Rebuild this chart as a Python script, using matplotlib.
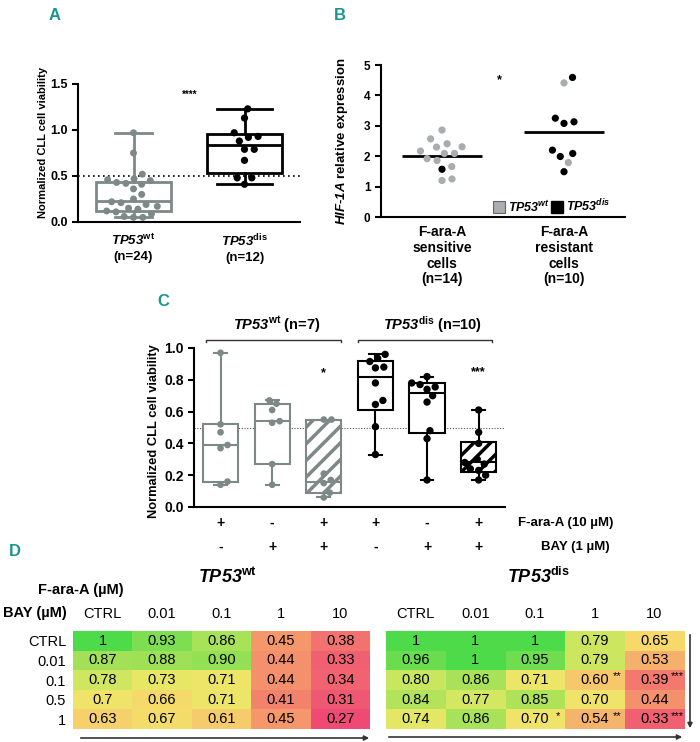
import numpy as np
import matplotlib
matplotlib.use("Agg")
import matplotlib.pyplot as plt
from matplotlib.patches import Patch, FancyArrowPatch
from matplotlib.colors import LinearSegmentedColormap

plt.rcParams.update({
    "font.family": ["Liberation Sans", "DejaVu Sans"],
    "font.weight": "bold",
    "axes.labelweight": "bold",
    "mathtext.fontset": "custom",
    "mathtext.rm": "Liberation Sans:italic:bold",
    "mathtext.it": "Liberation Sans:italic:bold",
    "mathtext.sf": "Liberation Sans:bold",
    "mathtext.bf": "Liberation Sans:bold",
    "axes.linewidth": 1.5,
    "hatch.linewidth": 2.5,
})

# ---- Panel A: viability by TP53 status
A_wt = [0.97, 0.75, 0.52, 0.47, 0.46, 0.45, 0.43, 0.42, 0.41, 0.36, 0.30, 0.25,
        0.22, 0.21, 0.19, 0.17, 0.15, 0.14, 0.12, 0.11, 0.09, 0.06, 0.05, 0.05]
A_dis = [1.23, 1.13, 0.97, 0.93, 0.92, 0.88, 0.79, 0.79, 0.67, 0.48, 0.48, 0.41]
# whislo, q1, median, q3, whishi
A_box_wt = [0.05, 0.12, 0.23, 0.43, 0.97]
A_box_dis = [0.41, 0.53, 0.84, 0.96, 1.23]
A_ticks = [r"$\mathrm{TP53}^{\mathsf{wt}}$" + "\n(n=24)",
           r"$\mathrm{TP53}^{\mathsf{dis}}$" + "\n(n=12)"]

# ---- Panel B: HIF-1A expression
B_sens = [2.86, 2.57, 2.31, 2.30, 2.41, 2.17, 2.09, 2.09, 1.92, 1.86, 1.66, 1.57, 1.20, 1.25]
B_sens_dis = [0, 0, 0, 0, 0, 0, 0, 0, 0, 0, 0, 1, 0, 0]
B_res = [4.59, 4.41, 3.25, 3.08, 3.13, 2.09, 1.99, 2.20, 1.79, 1.49]
B_res_dis = [1, 0, 1, 1, 1, 1, 1, 1, 0, 1]
B_ticks = ["F-ara-A\nsensitive\ncells\n(n=14)", "F-ara-A\nresistant\ncells\n(n=10)"]

# ---- Panel C: F-ara-A / BAY combinations
C_vals = [
    [0.97, 0.52, 0.47, 0.39, 0.37, 0.16, 0.14],
    [0.67, 0.65, 0.61, 0.54, 0.53, 0.27, 0.14],
    [0.55, 0.55, 0.21, 0.17, 0.15, 0.09, 0.06],
    [0.96, 0.935, 0.915, 0.88, 0.875, 0.78, 0.67, 0.645, 0.505, 0.33],
    [0.82, 0.78, 0.77, 0.755, 0.74, 0.70, 0.66, 0.48, 0.43, 0.17],
    [0.61, 0.47, 0.40, 0.30, 0.28, 0.27, 0.24, 0.23, 0.20, 0.17],
]
C_box = [
    [0.14, 0.16, 0.39, 0.52, 0.97],
    [0.14, 0.27, 0.54, 0.65, 0.67],
    [0.06, 0.09, 0.16, 0.55, 0.55],
    [0.33, 0.61, 0.82, 0.92, 0.96],
    [0.17, 0.465, 0.72, 0.78, 0.82],
    [0.17, 0.22, 0.28, 0.41, 0.61],
]
C_fara = ["+", "-", "+", "+", "-", "+"]
C_bay = ["-", "+", "+", "-", "+", "+"]

# ---- Panel D: heatmaps
D_cols = ["CTRL", "0.01", "0.1", "1", "10"]     # F-ara-A (uM)
D_rows = ["CTRL", "0.01", "0.1", "0.5", "1"]    # BAY (uM)
D_wt = [["1", "0.93", "0.86", "0.45", "0.38"],
        ["0.87", "0.88", "0.90", "0.44", "0.33"],
        ["0.78", "0.73", "0.71", "0.44", "0.34"],
        ["0.7", "0.66", "0.71", "0.41", "0.31"],
        ["0.63", "0.67", "0.61", "0.45", "0.27"]]
D_dis = [["1", "1", "1", "0.79", "0.65"],
         ["0.96", "1", "0.95", "0.79", "0.53"],
         ["0.80", "0.86", "0.71", "0.60", "0.39"],
         ["0.84", "0.77", "0.85", "0.70", "0.44"],
         ["0.74", "0.86", "0.70", "0.54", "0.33"]]
D_dis_stars = {(2, 3): "**", (2, 4): "***", (4, 2): "*", (4, 3): "**", (4, 4): "***"}

GRAY = "#7d8987"
GRAY_B = "#a7adb0"
TEAL = "#1a9590"

W, H = 700, 742
fig = plt.figure(figsize=(W / 100, H / 100), dpi=100)


def px_axes(l, t, r, b):
    return fig.add_axes([l / W, 1 - b / H, (r - l) / W, (b - t) / H])


def fxy(x, y):
    return x / W, 1 - y / H


def swarm(ax, x0, vals, size_pt, colors, gap=1.05, zorder=4):
    vals = np.asarray(vals, float)
    bb = ax.get_position()
    xl, yl = ax.get_xlim(), ax.get_ylim()
    d = size_pt * 100 / 72 * gap
    dx = d * (xl[1] - xl[0]) / (bb.width * W)
    dy = d * (yl[1] - yl[0]) / (bb.height * H)
    placed = []
    offs = np.zeros(len(vals))
    for i in np.argsort(vals):
        yn = vals[i] / dy
        near = [(p, q) for p, q in placed if abs(q - yn) < 1]
        cands = [0.0]
        for p, q in near:
            h = np.sqrt(1 - (q - yn) ** 2)
            cands += [p + h, p - h]
        cands.sort(key=abs)
        for c in cands:
            if all((c - p) ** 2 + (yn - q) ** 2 >= 0.999 for p, q in near):
                break
        placed.append((c, yn))
        offs[i] = c * dx
    ax.scatter(x0 + offs, vals, s=size_pt ** 2, c=colors, edgecolors="none",
               zorder=zorder, clip_on=False)


def stats(b):
    return dict(whislo=b[0], q1=b[1], med=b[2], q3=b[3], whishi=b[4], fliers=[])


def draw_box(ax, b, pos, width, cap, color, lw, hatch=None):
    props = dict(color=color, lw=lw)
    ax.bxp([stats(b)], positions=[pos], widths=width, capwidths=cap,
           showfliers=False, patch_artist=True,
           boxprops=dict(facecolor="white", edgecolor=color, lw=lw, hatch=hatch),
           whiskerprops=props, capprops=props, medianprops=props)


def style(ax, ysize=9):
    for s in ("top", "right"):
        ax.spines[s].set_visible(False)
    ax.tick_params(axis="y", direction="out", length=4, width=1.5, labelsize=ysize)
    ax.tick_params(axis="x", length=0)


def bold_ticks(ax):
    for t in ax.get_yticklabels() + ax.get_xticklabels():
        t.set_fontweight("bold")


# ================= A
axA = px_axes(78, 84, 300, 222)
axA.set_xlim(-0.5, 1.5)
axA.set_ylim(0, 1.5)
draw_box(axA, A_box_wt, 0, 0.667, 0.33, GRAY, 2)
draw_box(axA, A_box_dis, 1, 0.667, 0.5, "black", 2)
axA.axhline(0.5, color="black", ls=(0, (1, 2)), lw=1.2, zorder=1)
swarm(axA, 0, A_wt, 5.0, GRAY, gap=1.35)
swarm(axA, 1, A_dis, 5.2, "black", gap=1.35)
style(axA, 9)
axA.set_yticks([0, 0.5, 1.0, 1.5])
axA.set_xticks([0, 1])
axA.set_xticklabels(A_ticks, fontsize=9.5, linespacing=1.3)
axA.tick_params(axis="x", pad=8)
bold_ticks(axA)
axA.set_ylabel("Normalized CLL cell viability", fontsize=8)
axA.yaxis.set_label_coords(-0.135, 0.58)
axA.text(0.51, 1.38, "****", ha="center", va="center", fontsize=7)

# ================= B
axB = px_axes(381, 65, 625, 217)
axB.set_xlim(-0.5, 1.5)
axB.set_ylim(0, 5)
for x, vals, flag in [(0, B_sens, B_sens_dis), (1, B_res, B_res_dis)]:
    axB.hlines(np.mean(vals), x - 0.33, x + 0.33, color="black", lw=2, zorder=3)
    swarm(axB, x, vals, 5.2, ["black" if f else GRAY_B for f in flag], gap=1.4)
style(axB, 8.5)
axB.set_yticks(range(6))
axB.set_xticks([0, 1])
axB.set_xticklabels(B_ticks, fontsize=10, linespacing=1.15)
axB.tick_params(axis="x", pad=6)
bold_ticks(axB)
axB.set_ylabel(r"$\mathrm{HIF}$-$\mathrm{1A}$ relative expression", fontsize=9.5)
axB.yaxis.set_label_coords(-0.125, 0.5)
axB.text(0.47, 4.5, "*", ha="center", va="center", fontsize=9)
axB.legend(handles=[Patch(facecolor=GRAY_B, edgecolor="#666666", lw=0.8),
                    Patch(facecolor="black", edgecolor="black")],
           labels=[r"$\mathrm{TP53^{wt}}$", r"$\mathrm{TP53^{dis}}$"],
           ncol=2, loc="lower right", bbox_to_anchor=(0.95, 0.0), frameon=False,
           fontsize=9, handlelength=1.0, handleheight=1.1, handletextpad=0.2,
           columnspacing=0.1, borderaxespad=0.1, borderpad=0.1)

# ================= C
axC = px_axes(194, 348, 505, 507)
axC.set_xlim(-0.514, 5.51)
axC.set_ylim(0, 1.0)
for i, (vals, b) in enumerate(zip(C_vals, C_box)):
    col = GRAY if i < 3 else "black"
    draw_box(axC, b, i, 0.68, 0.25, col, 1.5, hatch="//" if i in (2, 5) else None)
    swarm(axC, i, vals, 4.8 if i < 3 else 5.3, col, gap=1.15)
axC.axhline(0.5, color="#555555", ls=(0, (1, 1.5)), lw=0.8, zorder=1)
style(axC, 10)
axC.set_yticks(np.arange(0, 1.01, 0.2))
axC.yaxis.set_major_formatter(matplotlib.ticker.FormatStrFormatter("%.1f"))
axC.set_xticks([])
bold_ticks(axC)
axC.set_ylabel("Normalized CLL cell viability", fontsize=9.3)
axC.yaxis.set_label_coords(-0.11, 0.48)
tr = axC.get_xaxis_transform()
for i in range(6):
    axC.text(i, -0.10, C_fara[i], transform=tr, ha="center", va="center", fontsize=10)
    axC.text(i, -0.25, C_bay[i], transform=tr, ha="center", va="center", fontsize=10)
fig.text(*fxy(613, 523), "F-ara-A (10 µM)", ha="right", va="center", fontsize=9.5)
fig.text(*fxy(610, 547), "BAY (1 µM)", ha="right", va="center", fontsize=9.5)
for x0, x1, xc, lab in [(-0.28, 2.335, 1.08, r"$\mathrm{TP53}^{\mathsf{wt}}$ (n=7)"),
                        (2.66, 5.26, 4.10, r"$\mathrm{TP53}^{\mathsf{dis}}$ (n=10)")]:
    axC.plot([x0, x0, x1, x1], [1.035, 1.05, 1.05, 1.035], color="#333333",
             lw=1, clip_on=False)
    axC.text(xc, 1.145, lab, ha="center", va="center", fontsize=10.5)
axC.text(2, 0.84, "*", ha="center", va="center", fontsize=9)
axC.text(5, 0.85, "***", ha="center", va="center", fontsize=9)

# ================= D
cm_pos = [0.27, 0.38, 0.45, 0.55, 0.65, 0.72, 0.80, 0.90, 1.0]
cm_col = ["#ee4a74", "#f3736f", "#f5976c", "#f6b86b", "#f7d86c", "#ece868",
          "#c8e65e", "#94e055", "#4ddb4a"]
cmap = LinearSegmentedColormap.from_list(
    "via", [((p - 0.27) / 0.73, c) for p, c in zip(cm_pos, cm_col)])

axDw = px_axes(73, 631, 370, 729)
axDd = px_axes(386, 631, 684, 729)
for ax, data, stars in [(axDw, D_wt, {}), (axDd, D_dis, D_dis_stars)]:
    vals = np.array([[float(s) for s in row] for row in data])
    ax.imshow(vals, cmap=cmap, vmin=0.27, vmax=1.0, aspect="auto",
              interpolation="nearest")
    for i in range(5):
        for j in range(5):
            ax.text(j, i, data[i][j], ha="center", va="center", fontsize=10.5,
                    fontweight="normal")
    for (i, j), s in stars.items():
        ax.text(j + 0.38, i - 0.18, s, ha="center", va="center", fontsize=8,
                fontweight="normal")
    ax.set_xticks(range(5))
    ax.set_xticklabels(D_cols, fontsize=10.5, fontweight="normal")
    ax.xaxis.tick_top()
    ax.tick_params(length=0, pad=7)
    for s in ax.spines.values():
        s.set_visible(False)
axDw.set_yticks(range(5))
axDw.set_yticklabels(D_rows, fontsize=10.5, fontweight="normal")
axDw.tick_params(axis="y", pad=5)
axDd.set_yticks([])

fig.text(*fxy(3, 613), "BAY (µM)", ha="left", va="center", fontsize=10.5)
fig.text(*fxy(81, 590), "F-ara-A (µM)", ha="center", va="center", fontsize=10.5)
fig.text(*fxy(228, 577), r"$\mathrm{TP53}^{\mathsf{wt}}$", ha="center", va="center", fontsize=13)
fig.text(*fxy(538, 577), r"$\mathrm{TP53}^{\mathsf{dis}}$", ha="center", va="center", fontsize=13)

for a, b in [((78, 738), (372, 738)), ((386, 737), (685, 737)), ((690, 632), (690, 731))]:
    fig.add_artist(FancyArrowPatch(fxy(*a), fxy(*b), transform=fig.transFigure,
                                   arrowstyle="-|>", mutation_scale=7, lw=1.2,
                                   color="#333333"))

# panel letters
for (x, y), L in [((55, 15), "A"), ((340, 15), "B"), ((163, 302), "C"), ((15, 551), "D")]:
    fig.text(*fxy(x, y), L, ha="center", va="center", fontsize=12, color=TEAL,
             fontweight="bold")

fig.savefig("out.png", dpi=100)
